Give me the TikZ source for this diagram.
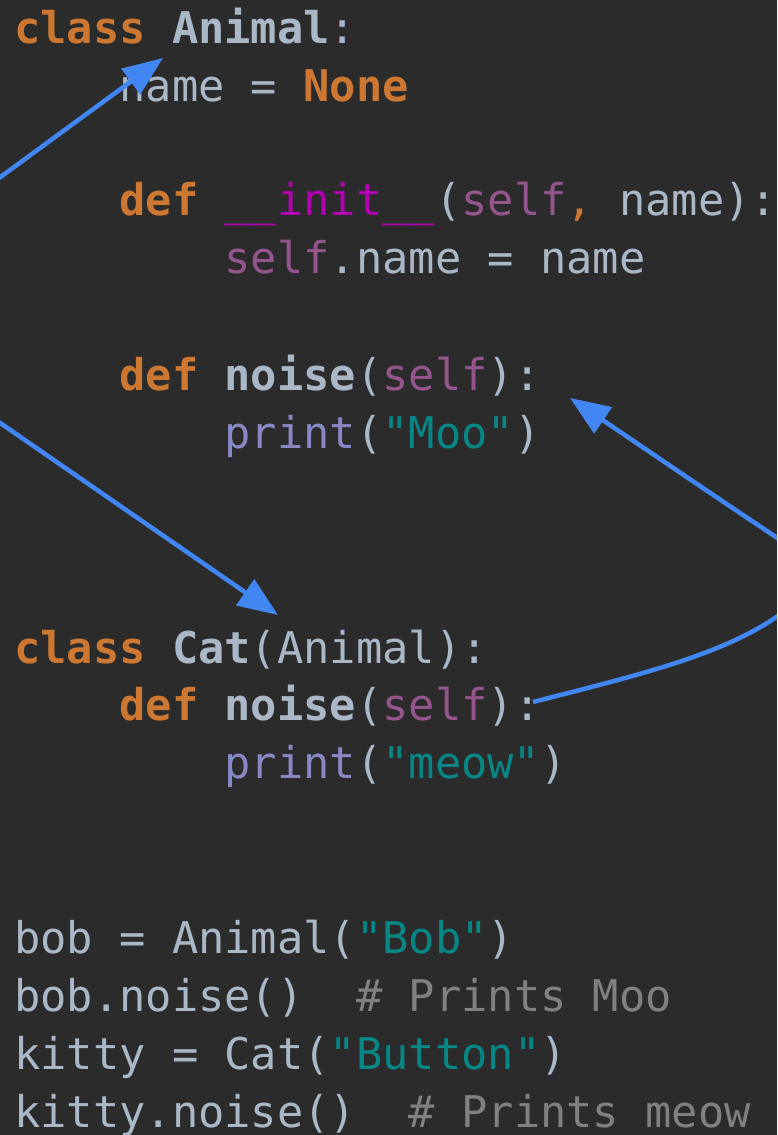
\documentclass[tikz,border=0pt]{standalone}
\usepackage{fontspec}
\newfontfamily\codefont{DejaVu Sans Mono}
\usetikzlibrary{arrows.meta}

\definecolor{bg}{HTML}{2B2B2B}
\definecolor{kwc}{HTML}{CC7832}
\definecolor{plain}{HTML}{A9B7C6}
\definecolor{selfc}{HTML}{94558D}
\definecolor{magic}{HTML}{B200B2}
\definecolor{builtin}{HTML}{8888C6}
\definecolor{strc}{HTML}{078686}
\definecolor{cmt}{HTML}{808080}
\definecolor{linkblue}{HTML}{4286F4}

\newcommand{\kw}[1]{\textcolor{kwc}{\bfseries #1}}
\newcommand{\slf}{\textcolor{selfc}{self}}
\newcommand{\str}[1]{\textcolor{strc}{#1}}

\tikzset{
  codeline/.style={anchor=base west, inner sep=0pt, text=plain,
    font=\codefont\fontsize{43.7}{52}\selectfont},
  link/.style={draw=linkblue, line width=4.5pt},
  tip/.style={-{Triangle[length=40pt,width=31pt]}},
  bothtips/.style={{Triangle[length=40pt,width=31pt]}-{Triangle[length=40pt,width=31pt]}}
}

\begin{document}
\begin{tikzpicture}[x=1pt,y=-1pt]
  % page
  \useasboundingbox (0,0) rectangle (777,1135);
  \clip (0,0) rectangle (777,1135);
  \fill[bg] (0,0) rectangle (777,1135);

  % class Animal
  \node[codeline] (lAnimal) at (14,43) {\kw{class} \textbf{Animal}:};
  \node[codeline] (lName) at (119.2,101) {name = \kw{None}};
  \node[codeline] (lInit) at (119.2,215) {\kw{def} \textcolor{magic}{\_\_init\_\_}(\slf\textcolor{kwc}{,} name):};
  \node[codeline] (lSelf) at (224.4,273) {\slf.name = name};
  \node[codeline] (lNoiseA) at (119.2,390) {\kw{def} \textbf{noise}(\slf):};
  \node[codeline] (lMoo) at (224.4,448) {\textcolor{builtin}{print}(\str{"Moo"})};

  % class Cat
  \node[codeline] (lCat) at (14,663) {\kw{class} \textbf{Cat}(Animal):};
  \node[codeline] (lNoiseC) at (119.2,720) {\kw{def} \textbf{noise}(\slf):};
  \node[codeline] (lMeow) at (224.4,778) {\textcolor{builtin}{print}(\str{"meow"})};

  % usage
  \node[codeline] (lBob) at (14,953) {bob = Animal(\str{"Bob"})};
  \node[codeline] (lBobNoise) at (14,1011) {bob.noise()~~\textcolor{cmt}{\# Prints Moo}};
  \node[codeline] (lKitty) at (14,1069) {kitty = Cat(\str{"Button"})};
  \node[codeline] (lKittyNoise) at (14,1127) {kitty.noise()~~\textcolor{cmt}{\# Prints meow}};

  % ends of the links
  \coordinate (tipAnimal) at (163,58);
  \coordinate (tipCat) at (278,615);
  \coordinate (tailNoise) at (533,702);
  \coordinate (tipNoise) at (570,398);

  % Cat inherits from Animal
  \draw[link,bothtips] (tipAnimal) -- (-20,192)
    .. controls (-90,241) and (-90,360) .. (-20,409) -- (tipCat);

  % noise is overridden
  \draw[link,tip] (tailNoise) .. controls (650,672) and (745,650) .. (800,598)
    -- (800,553) .. controls (720,500) and (650,452) .. (tipNoise);
\end{tikzpicture}
\end{document}
